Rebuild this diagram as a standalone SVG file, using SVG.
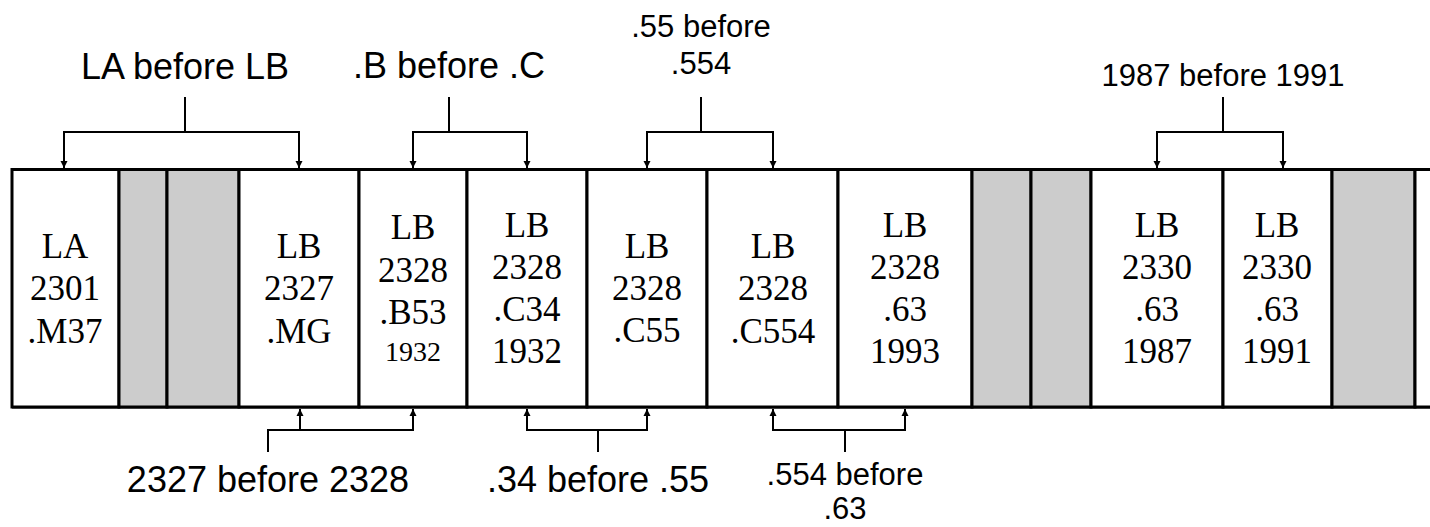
<svg xmlns="http://www.w3.org/2000/svg" width="1430" height="527" viewBox="0 0 1430 527">
<defs>
<style>
.book{fill:#ffffff;stroke:#000000;stroke-width:3}
.gray{fill:#cccccc;stroke:#000000;stroke-width:3}
.call{font-family:"Liberation Serif","Times New Roman",serif;font-size:35px;fill:#000000;text-anchor:middle}
.small{font-size:28px}
.lbl{font-family:"Liberation Sans",Arial,sans-serif;font-size:36px;fill:#000000;text-anchor:middle}
.lbl2{font-family:"Liberation Sans",Arial,sans-serif;font-size:31px;fill:#000000;text-anchor:middle}
.br{fill:none;stroke:#000000;stroke-width:2}
.arr{fill:none;stroke:#000000;stroke-width:2;marker-start:url(#ah);marker-end:url(#ah)}
</style>
<marker id="ah" viewBox="0 0 8 8" refX="8" refY="4" markerWidth="7" markerHeight="8" markerUnits="userSpaceOnUse" orient="auto-start-reverse">
<path d="M0,0 L8,4 L0,8 z" fill="#000000"/>
</marker>
</defs>

<g id="shelf">
<line x1="12" y1="169.5" x2="1430" y2="169.5" stroke="#000" stroke-width="3"/>
<line x1="12" y1="407" x2="1430" y2="407" stroke="#000" stroke-width="3"/>
</g>

<g id="book-la2301">
<rect class="book" x="12" y="169.5" width="107" height="237.5"/>
<text class="call" x="65" y="258">LA</text>
<text class="call" x="65" y="300">2301</text>
<text class="call" x="65" y="343">.M37</text>
</g>
<g id="gray1"><rect class="gray" x="119" y="169.5" width="48" height="237.5"/></g>
<g id="gray2"><rect class="gray" x="167" y="169.5" width="72" height="237.5"/></g>
<g id="book-lb2327">
<rect class="book" x="239" y="169.5" width="120" height="237.5"/>
<text class="call" x="299" y="258">LB</text>
<text class="call" x="299" y="300">2327</text>
<text class="call" x="299" y="343">.MG</text>
</g>
<g id="book-b53">
<rect class="book" x="359" y="169.5" width="108" height="237.5"/>
<text class="call" x="413" y="239">LB</text>
<text class="call" x="413" y="282">2328</text>
<text class="call" x="413" y="324">.B53</text>
<text class="call small" x="413" y="361">1932</text>
</g>
<g id="book-c34">
<rect class="book" x="467" y="169.5" width="120" height="237.5"/>
<text class="call" x="527" y="237">LB</text>
<text class="call" x="527" y="279">2328</text>
<text class="call" x="527" y="321">.C34</text>
<text class="call" x="527" y="363">1932</text>
</g>
<g id="book-c55">
<rect class="book" x="587" y="169.5" width="120" height="237.5"/>
<text class="call" x="647" y="258">LB</text>
<text class="call" x="647" y="300">2328</text>
<text class="call" x="647" y="342">.C55</text>
</g>
<g id="book-c554">
<rect class="book" x="707" y="169.5" width="131" height="237.5"/>
<text class="call" x="773" y="258">LB</text>
<text class="call" x="773" y="300">2328</text>
<text class="call" x="773" y="343">.C554</text>
</g>
<g id="book-63-1993">
<rect class="book" x="838" y="169.5" width="134" height="237.5"/>
<text class="call" x="905" y="237">LB</text>
<text class="call" x="905" y="279">2328</text>
<text class="call" x="905" y="321">.63</text>
<text class="call" x="905" y="363">1993</text>
</g>
<g id="gray3"><rect class="gray" x="972" y="169.5" width="59" height="237.5"/></g>
<g id="gray4"><rect class="gray" x="1031" y="169.5" width="60" height="237.5"/></g>
<g id="book-1987">
<rect class="book" x="1091" y="169.5" width="132" height="237.5"/>
<text class="call" x="1157" y="237">LB</text>
<text class="call" x="1157" y="279">2330</text>
<text class="call" x="1157" y="321">.63</text>
<text class="call" x="1157" y="363">1987</text>
</g>
<g id="book-1991">
<rect class="book" x="1223" y="169.5" width="109" height="237.5"/>
<text class="call" x="1277" y="237">LB</text>
<text class="call" x="1277" y="279">2330</text>
<text class="call" x="1277" y="321">.63</text>
<text class="call" x="1277" y="363">1991</text>
</g>
<g id="gray5"><rect class="gray" x="1332" y="169.5" width="83" height="237.5"/></g>
<g id="book-partial">
<rect class="book" x="1415" y="169.5" width="20" height="237.5"/>
</g>

<g id="connectors">
<path class="br" d="M185,97 V132"/>
<path class="arr" d="M64,168 V132 H299 V168"/>
<path class="br" d="M449,97 V132"/>
<path class="arr" d="M413,168 V132 H527 V168"/>
<path class="br" d="M701,97 V132"/>
<path class="arr" d="M647,168 V132 H773 V168"/>
<path class="br" d="M1223,97 V132"/>
<path class="arr" d="M1157,168 V132 H1283 V168"/>
<path class="br" d="M268,452 V430 H300"/>
<path class="arr" d="M300,409 V430 H413 V409"/>
<path class="br" d="M598,452 V430"/>
<path class="arr" d="M527,409 V430 H647 V409"/>
<path class="br" d="M845,452 V430"/>
<path class="arr" d="M773,409 V430 H905 V409"/>
</g>

<g id="labels">
<text class="lbl" x="185" y="79">LA before LB</text>
<text class="lbl" x="449" y="78">.B before .C</text>
<text class="lbl2" x="701" y="37">.55 before</text>
<text class="lbl2" x="701" y="74">.554</text>
<text class="lbl2" x="1223" y="86">1987 before 1991</text>
<text class="lbl" x="268" y="492">2327 before 2328</text>
<text class="lbl" x="598" y="492">.34 before .55</text>
<text class="lbl2" x="845" y="485">.554 before</text>
<text class="lbl2" x="845" y="519">.63</text>
</g>
</svg>
